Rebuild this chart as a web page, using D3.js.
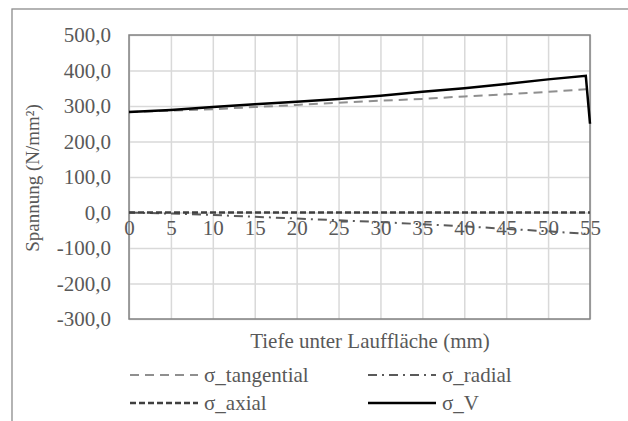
<!DOCTYPE html>
<html>
<head>
<meta charset="utf-8">
<script src="https://cdn.jsdelivr.net/npm/d3@7"></script>
<style>
  body { margin: 0; background: #fff; }
  svg text { font-family: "Liberation Serif", "Times New Roman", serif; fill: #595959; }
</style>
</head>
<body>
<div id="chart"></div>
<script>
// depth below running surface (mm)
var depth = [0, 5, 10, 15, 20, 25, 30, 35, 40, 45, 50, 54.5, 55];
// stresses (N/mm²)
var sigmaTangential = [283, 287, 291, 297, 303, 309, 315, 320, 327, 333, 340, 347, 347];
var sigmaRadial = [0, -3, -7, -12, -17, -22, -27, -33, -39, -46, -53, -60, -62];
var sigmaAxial = [0, 0, 0, 0, 0, 0, 0, 0, 0, 0, 0, 0, 0];
var sigmaV = [283, 289, 297, 305, 312, 320, 329, 340, 350, 362, 375, 385, 250];

var xTicks = [0, 5, 10, 15, 20, 25, 30, 35, 40, 45, 50, 55];
var yTicks = [-300, -200, -100, 0, 100, 200, 300, 400, 500];

var seriesNames = ["σ_tangential", "σ_radial", "σ_axial", "σ_V"];

var width = 628, height = 421;
var margin = { top: 35, right: 38, bottom: 102, left: 129 };
var w = width - margin.left - margin.right;
var h = height - margin.top - margin.bottom;

var de = d3.formatLocale({ decimal: ",", thousands: ".", grouping: [3], currency: ["", "€"], minus: "-" });
var fmt = de.format(".1f");

var svg = d3.select("#chart").append("svg")
    .attr("width", width)
    .attr("height", height);

// chart frame
svg.append("rect")
    .attr("x", 12).attr("y", 9)
    .attr("width", 700).attr("height", 500)
    .attr("fill", "none")
    .attr("stroke", "#8c8c8c")
    .attr("stroke-width", 1.3);

var g = svg.append("g")
    .attr("transform", "translate(" + margin.left + "," + margin.top + ")");

var xScale = d3.scaleLinear().domain([0, 55]).range([0, w]);
var yScale = d3.scaleLinear().domain([-300, 500]).range([h, 0]);

// gridlines
var xGrid = d3.axisBottom(xScale).tickValues(xTicks).tickSize(-h).tickFormat("");
g.append("g")
    .attr("class", "grid")
    .attr("transform", "translate(0," + h + ")")
    .call(xGrid);
var yGrid = d3.axisLeft(yScale).tickValues(yTicks).tickSize(-w).tickFormat("");
g.append("g")
    .attr("class", "grid")
    .call(yGrid);
g.selectAll(".grid .domain").remove();
g.selectAll(".grid line").attr("stroke", "#d9d9d9").attr("stroke-width", 1.5);

// plot area border
g.append("rect")
    .attr("x", 0).attr("y", 0)
    .attr("width", w).attr("height", h)
    .attr("fill", "none")
    .attr("stroke", "#828282")
    .attr("stroke-width", 1.5);

// y axis labels
var yAxis = d3.axisLeft(yScale).tickValues(yTicks).tickSize(0).tickPadding(18).tickFormat(fmt);
g.append("g").attr("class", "axis").call(yAxis);

// x axis labels sit on the zero line
var xAxis = d3.axisBottom(xScale).tickValues(xTicks).tickSize(0).tickPadding(8).tickFormat(d3.format("d"));
g.append("g")
    .attr("class", "axis")
    .attr("transform", "translate(0," + yScale(0) + ")")
    .call(xAxis);

g.selectAll(".axis .domain").remove();
g.selectAll(".axis text")
    .style("font-size", "21px")
    .style("fill", "#595959");

// lines
var styles = [
    { values: sigmaTangential, color: "#8f8f8f", width: 2, dash: "9,6" },
    { values: sigmaRadial, color: "#5a5a5a", width: 2, dash: "9,5,2,5" },
    { values: sigmaAxial, color: "#3f3f3f", width: 2.5, dash: "6,3" },
    { values: sigmaV, color: "#000000", width: 2.5, dash: null }
];

var line = d3.line()
    .x(function (d, i) { return xScale(depth[i]); })
    .y(function (d) { return yScale(d); });

styles.forEach(function (s) {
    g.append("path")
        .datum(s.values)
        .attr("d", line)
        .attr("fill", "none")
        .attr("stroke", s.color)
        .attr("stroke-width", s.width)
        .attr("stroke-dasharray", s.dash);
});

// axis titles
svg.append("text")
    .attr("x", 370)
    .attr("y", 348)
    .attr("text-anchor", "middle")
    .style("font-size", "21px")
    .text("Tiefe unter Lauffläche (mm)");

svg.append("text")
    .attr("transform", "translate(39,178) rotate(-90)")
    .attr("text-anchor", "middle")
    .style("font-size", "19px")
    .text("Spannung (N/mm²)");

// legend
var legendPos = [
    { x: 130, y: 375 },
    { x: 368, y: 375 },
    { x: 130, y: 403 },
    { x: 368, y: 403 }
];

seriesNames.forEach(function (name, i) {
    var p = legendPos[i];
    var s = styles[i];
    svg.append("line")
        .attr("x1", p.x).attr("x2", p.x + 68)
        .attr("y1", p.y).attr("y2", p.y)
        .attr("stroke", s.color)
        .attr("stroke-width", s.width)
        .attr("stroke-dasharray", s.dash);
    svg.append("text")
        .attr("x", p.x + 74)
        .attr("y", p.y + 7)
        .style("font-size", "21px")
        .text(name);
});
</script>
</body>
</html>
